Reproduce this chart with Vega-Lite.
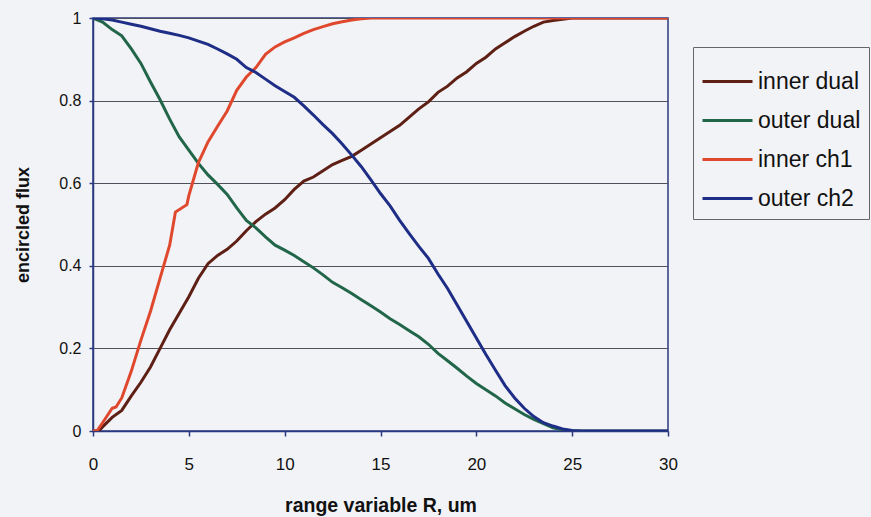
{
  "$schema": "https://vega.github.io/schema/vega-lite/v6.json",
  "autosize": "none",
  "width": 575,
  "height": 413,
  "padding": {"left": 93, "top": 18, "right": 203, "bottom": 86},
  "background": "#f2f3f7",
  "config": {
    "font": "Liberation Sans",
    "view": {"stroke": "#2b3a80", "strokeWidth": 1.5, "fill": "#f2f3f7"}
  },
  "data": {
    "values": [
      {"s": "inner dual", "R": 0, "v": 0}, {"s": "inner dual", "R": 0.3, "v": 0}, {"s": "inner dual", "R": 0.5, "v": 0.01}, {"s": "inner dual", "R": 1.0, "v": 0.033}, {"s": "inner dual", "R": 1.5, "v": 0.05}, {"s": "inner dual", "R": 2.0, "v": 0.085}, {"s": "inner dual", "R": 2.5, "v": 0.118}, {"s": "inner dual", "R": 3.0, "v": 0.155}, {"s": "inner dual", "R": 3.5, "v": 0.2}, {"s": "inner dual", "R": 4.0, "v": 0.245}, {"s": "inner dual", "R": 4.5, "v": 0.285}, {"s": "inner dual", "R": 5.0, "v": 0.325}, {"s": "inner dual", "R": 5.5, "v": 0.37}, {"s": "inner dual", "R": 6.0, "v": 0.405}, {"s": "inner dual", "R": 6.5, "v": 0.425}, {"s": "inner dual", "R": 7.0, "v": 0.44}, {"s": "inner dual", "R": 7.5, "v": 0.46}, {"s": "inner dual", "R": 8.0, "v": 0.485}, {"s": "inner dual", "R": 8.5, "v": 0.507}, {"s": "inner dual", "R": 9.0, "v": 0.525}, {"s": "inner dual", "R": 9.5, "v": 0.54}, {"s": "inner dual", "R": 10.0, "v": 0.56}, {"s": "inner dual", "R": 10.5, "v": 0.585}, {"s": "inner dual", "R": 11.0, "v": 0.605}, {"s": "inner dual", "R": 11.5, "v": 0.615}, {"s": "inner dual", "R": 12.0, "v": 0.63}, {"s": "inner dual", "R": 12.5, "v": 0.645}, {"s": "inner dual", "R": 13.0, "v": 0.655}, {"s": "inner dual", "R": 13.5, "v": 0.665}, {"s": "inner dual", "R": 14.0, "v": 0.68}, {"s": "inner dual", "R": 14.5, "v": 0.695}, {"s": "inner dual", "R": 15.0, "v": 0.71}, {"s": "inner dual", "R": 15.5, "v": 0.725}, {"s": "inner dual", "R": 16.0, "v": 0.74}, {"s": "inner dual", "R": 16.5, "v": 0.76}, {"s": "inner dual", "R": 17.0, "v": 0.78}, {"s": "inner dual", "R": 17.5, "v": 0.797}, {"s": "inner dual", "R": 18.0, "v": 0.82}, {"s": "inner dual", "R": 18.5, "v": 0.835}, {"s": "inner dual", "R": 19.0, "v": 0.855}, {"s": "inner dual", "R": 19.5, "v": 0.87}, {"s": "inner dual", "R": 20.0, "v": 0.89}, {"s": "inner dual", "R": 20.5, "v": 0.905}, {"s": "inner dual", "R": 21.0, "v": 0.925}, {"s": "inner dual", "R": 21.5, "v": 0.94}, {"s": "inner dual", "R": 22.0, "v": 0.955}, {"s": "inner dual", "R": 22.5, "v": 0.968}, {"s": "inner dual", "R": 23.0, "v": 0.98}, {"s": "inner dual", "R": 23.5, "v": 0.99}, {"s": "inner dual", "R": 24.0, "v": 0.994}, {"s": "inner dual", "R": 24.5, "v": 0.997}, {"s": "inner dual", "R": 25.0, "v": 1}, {"s": "inner dual", "R": 30, "v": 1},

      {"s": "outer dual", "R": 0, "v": 1}, {"s": "outer dual", "R": 0.5, "v": 0.99}, {"s": "outer dual", "R": 1.0, "v": 0.972}, {"s": "outer dual", "R": 1.5, "v": 0.957}, {"s": "outer dual", "R": 2.0, "v": 0.925}, {"s": "outer dual", "R": 2.5, "v": 0.89}, {"s": "outer dual", "R": 3.0, "v": 0.845}, {"s": "outer dual", "R": 3.5, "v": 0.802}, {"s": "outer dual", "R": 4.0, "v": 0.755}, {"s": "outer dual", "R": 4.5, "v": 0.712}, {"s": "outer dual", "R": 5.0, "v": 0.68}, {"s": "outer dual", "R": 5.5, "v": 0.648}, {"s": "outer dual", "R": 6.0, "v": 0.62}, {"s": "outer dual", "R": 6.5, "v": 0.597}, {"s": "outer dual", "R": 7.0, "v": 0.573}, {"s": "outer dual", "R": 7.5, "v": 0.54}, {"s": "outer dual", "R": 8.0, "v": 0.51}, {"s": "outer dual", "R": 8.5, "v": 0.492}, {"s": "outer dual", "R": 9.0, "v": 0.47}, {"s": "outer dual", "R": 9.5, "v": 0.45}, {"s": "outer dual", "R": 10.0, "v": 0.438}, {"s": "outer dual", "R": 10.5, "v": 0.425}, {"s": "outer dual", "R": 11.0, "v": 0.41}, {"s": "outer dual", "R": 11.5, "v": 0.395}, {"s": "outer dual", "R": 12.0, "v": 0.378}, {"s": "outer dual", "R": 12.5, "v": 0.36}, {"s": "outer dual", "R": 13.0, "v": 0.347}, {"s": "outer dual", "R": 13.5, "v": 0.333}, {"s": "outer dual", "R": 14.0, "v": 0.318}, {"s": "outer dual", "R": 14.5, "v": 0.303}, {"s": "outer dual", "R": 15.0, "v": 0.288}, {"s": "outer dual", "R": 15.5, "v": 0.272}, {"s": "outer dual", "R": 16.0, "v": 0.258}, {"s": "outer dual", "R": 16.5, "v": 0.243}, {"s": "outer dual", "R": 17.0, "v": 0.228}, {"s": "outer dual", "R": 17.5, "v": 0.21}, {"s": "outer dual", "R": 18.0, "v": 0.188}, {"s": "outer dual", "R": 18.5, "v": 0.17}, {"s": "outer dual", "R": 19.0, "v": 0.152}, {"s": "outer dual", "R": 19.5, "v": 0.133}, {"s": "outer dual", "R": 20.0, "v": 0.115}, {"s": "outer dual", "R": 20.5, "v": 0.1}, {"s": "outer dual", "R": 21.0, "v": 0.085}, {"s": "outer dual", "R": 21.5, "v": 0.068}, {"s": "outer dual", "R": 22.0, "v": 0.054}, {"s": "outer dual", "R": 22.5, "v": 0.04}, {"s": "outer dual", "R": 23.0, "v": 0.028}, {"s": "outer dual", "R": 23.5, "v": 0.018}, {"s": "outer dual", "R": 24.0, "v": 0.008}, {"s": "outer dual", "R": 24.5, "v": 0.003}, {"s": "outer dual", "R": 25.0, "v": 0}, {"s": "outer dual", "R": 30, "v": 0},

      {"s": "inner ch1", "R": 0, "v": 0}, {"s": "inner ch1", "R": 0.2, "v": 0}, {"s": "inner ch1", "R": 0.5, "v": 0.02}, {"s": "inner ch1", "R": 1.0, "v": 0.055}, {"s": "inner ch1", "R": 1.2, "v": 0.058}, {"s": "inner ch1", "R": 1.5, "v": 0.08}, {"s": "inner ch1", "R": 2.0, "v": 0.145}, {"s": "inner ch1", "R": 2.5, "v": 0.22}, {"s": "inner ch1", "R": 3.0, "v": 0.29}, {"s": "inner ch1", "R": 3.5, "v": 0.37}, {"s": "inner ch1", "R": 4.0, "v": 0.45}, {"s": "inner ch1", "R": 4.3, "v": 0.53}, {"s": "inner ch1", "R": 4.9, "v": 0.548}, {"s": "inner ch1", "R": 5.0, "v": 0.57}, {"s": "inner ch1", "R": 5.5, "v": 0.65}, {"s": "inner ch1", "R": 6.0, "v": 0.7}, {"s": "inner ch1", "R": 6.5, "v": 0.738}, {"s": "inner ch1", "R": 7.0, "v": 0.775}, {"s": "inner ch1", "R": 7.5, "v": 0.825}, {"s": "inner ch1", "R": 8.0, "v": 0.857}, {"s": "inner ch1", "R": 8.5, "v": 0.88}, {"s": "inner ch1", "R": 9.0, "v": 0.912}, {"s": "inner ch1", "R": 9.5, "v": 0.93}, {"s": "inner ch1", "R": 10.0, "v": 0.942}, {"s": "inner ch1", "R": 10.5, "v": 0.952}, {"s": "inner ch1", "R": 11.0, "v": 0.963}, {"s": "inner ch1", "R": 11.5, "v": 0.972}, {"s": "inner ch1", "R": 12.0, "v": 0.979}, {"s": "inner ch1", "R": 12.5, "v": 0.986}, {"s": "inner ch1", "R": 13.0, "v": 0.991}, {"s": "inner ch1", "R": 13.5, "v": 0.995}, {"s": "inner ch1", "R": 14.0, "v": 0.998}, {"s": "inner ch1", "R": 14.5, "v": 1}, {"s": "inner ch1", "R": 30, "v": 1},

      {"s": "outer ch2", "R": 0, "v": 1}, {"s": "outer ch2", "R": 0.5, "v": 0.998}, {"s": "outer ch2", "R": 1.0, "v": 0.995}, {"s": "outer ch2", "R": 1.5, "v": 0.99}, {"s": "outer ch2", "R": 2.0, "v": 0.985}, {"s": "outer ch2", "R": 2.5, "v": 0.98}, {"s": "outer ch2", "R": 3.0, "v": 0.974}, {"s": "outer ch2", "R": 3.5, "v": 0.968}, {"s": "outer ch2", "R": 4.0, "v": 0.963}, {"s": "outer ch2", "R": 4.5, "v": 0.958}, {"s": "outer ch2", "R": 5.0, "v": 0.952}, {"s": "outer ch2", "R": 5.5, "v": 0.944}, {"s": "outer ch2", "R": 6.0, "v": 0.936}, {"s": "outer ch2", "R": 6.5, "v": 0.925}, {"s": "outer ch2", "R": 7.0, "v": 0.913}, {"s": "outer ch2", "R": 7.5, "v": 0.9}, {"s": "outer ch2", "R": 8.0, "v": 0.88}, {"s": "outer ch2", "R": 8.5, "v": 0.868}, {"s": "outer ch2", "R": 9.0, "v": 0.852}, {"s": "outer ch2", "R": 9.5, "v": 0.836}, {"s": "outer ch2", "R": 10.0, "v": 0.822}, {"s": "outer ch2", "R": 10.5, "v": 0.808}, {"s": "outer ch2", "R": 11.0, "v": 0.787}, {"s": "outer ch2", "R": 11.5, "v": 0.765}, {"s": "outer ch2", "R": 12.0, "v": 0.742}, {"s": "outer ch2", "R": 12.5, "v": 0.72}, {"s": "outer ch2", "R": 13.0, "v": 0.695}, {"s": "outer ch2", "R": 13.5, "v": 0.668}, {"s": "outer ch2", "R": 14.0, "v": 0.64}, {"s": "outer ch2", "R": 14.5, "v": 0.608}, {"s": "outer ch2", "R": 15.0, "v": 0.575}, {"s": "outer ch2", "R": 15.5, "v": 0.545}, {"s": "outer ch2", "R": 16.0, "v": 0.51}, {"s": "outer ch2", "R": 16.5, "v": 0.478}, {"s": "outer ch2", "R": 17.0, "v": 0.447}, {"s": "outer ch2", "R": 17.5, "v": 0.418}, {"s": "outer ch2", "R": 18.0, "v": 0.38}, {"s": "outer ch2", "R": 18.5, "v": 0.345}, {"s": "outer ch2", "R": 19.0, "v": 0.305}, {"s": "outer ch2", "R": 19.5, "v": 0.265}, {"s": "outer ch2", "R": 20.0, "v": 0.225}, {"s": "outer ch2", "R": 20.5, "v": 0.185}, {"s": "outer ch2", "R": 21.0, "v": 0.147}, {"s": "outer ch2", "R": 21.5, "v": 0.11}, {"s": "outer ch2", "R": 22.0, "v": 0.08}, {"s": "outer ch2", "R": 22.5, "v": 0.055}, {"s": "outer ch2", "R": 23.0, "v": 0.035}, {"s": "outer ch2", "R": 23.5, "v": 0.02}, {"s": "outer ch2", "R": 24.0, "v": 0.012}, {"s": "outer ch2", "R": 24.5, "v": 0.005}, {"s": "outer ch2", "R": 25.0, "v": 0.001}, {"s": "outer ch2", "R": 25.5, "v": 0}, {"s": "outer ch2", "R": 30, "v": 0}
    ]
  },
  "mark": {"type": "line", "strokeWidth": 3, "clip": true},
  "encoding": {
    "x": {
      "field": "R", "type": "quantitative",
      "scale": {"domain": [0, 30], "nice": false, "zero": false},
      "axis": {
        "title": "range variable R, um", "values": [0, 5, 10, 15, 20, 25, 30],
        "grid": false, "domainColor": "#2b3a80", "domainWidth": 1.5,
        "tickColor": "#2b3a80", "tickSize": 5, "tickWidth": 1.5,
        "labelFontSize": 17, "labelColor": "#111", "labelPadding": 20, "labelFlush": false,
        "titleFontSize": 19.5, "titleFontWeight": "bold", "titleColor": "#111", "titlePadding": 24
      }
    },
    "y": {
      "field": "v", "type": "quantitative",
      "scale": {"domain": [0, 1], "nice": false},
      "axis": {
        "title": "encircled flux", "values": [0, 0.2, 0.4, 0.6, 0.8, 1], "format": "~g",
        "grid": true, "gridColor": "#50505a", "gridWidth": 1.2, "gridOpacity": 1,
        "domainColor": "#2b3a80", "domainWidth": 1.5,
        "tickColor": "#2b3a80", "tickSize": 4, "tickWidth": 1.5,
        "labelFontSize": 16, "labelColor": "#111", "labelPadding": 8,
        "titleFontSize": 18, "titleFontWeight": "bold", "titleColor": "#111", "titlePadding": 26
      }
    },
    "color": {
      "field": "s", "type": "nominal",
      "scale": {
        "domain": ["inner dual", "outer dual", "inner ch1", "outer ch2"],
        "range": ["#5e1f14", "#22664a", "#e0482e", "#1e2d86"]
      },
      "legend": {
        "title": null, "orient": "none", "legendX": 600, "legendY": 29,
        "symbolType": "stroke", "symbolSize": 2500, "symbolStrokeWidth": 3,
        "labelFontSize": 23, "labelColor": "#111", "labelOffset": 4,
        "padding": 8, "rowPadding": 0,
        "strokeColor": "#666", "fillColor": "#f2f3f7"
      }
    },
    "order": {"field": "R", "type": "quantitative"}
  }
}
